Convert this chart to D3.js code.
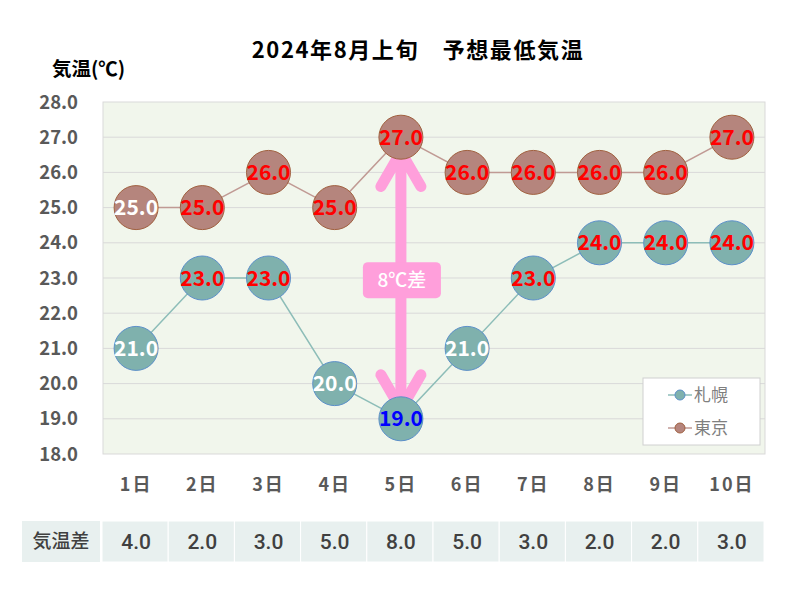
<!DOCTYPE html>
<html><head><meta charset="utf-8">
<script src="https://cdn.jsdelivr.net/npm/d3@7"></script>
<style>body{margin:0;background:#fff}svg{display:block}</style>
</head><body>
<svg id="c" width="800" height="600"></svg>
<script>
const days = ["1日","2日","3日","4日","5日","6日","7日","8日","9日","10日"];
const sapporo = [21,23,23,20,19,21,23,24,24,24];
const tokyo = [25,25,26,25,27,26,26,26,26,27];
const diff = [4,2,3,5,8,5,3,2,2,3];
const sapporoLabelColors = ["#fff","#f00","#f00","#fff","#00f","#fff","#f00","#f00","#f00","#f00"];
const tokyoLabelColors = ["#fff","#f00","#f00","#f00","#f00","#f00","#f00","#f00","#f00","#f00"];
const yTicks = [18,19,20,21,22,23,24,25,26,27,28];

const font = "'Noto Sans CJK JP','Noto Sans',sans-serif";
const svg = d3.select("#c");
const L=103,R=765,T=102,B=454;
const x = d3.scaleBand().domain(days).range([L,R]);
const y = d3.scaleLinear().domain([18,28]).range([B,T]);
const cx = d => x(d)+x.bandwidth()/2;

svg.append("rect").attr("x",L).attr("y",T).attr("width",R-L).attr("height",B-T)
  .attr("fill","#f1f6ec").attr("stroke","#d9d9d9").attr("stroke-width",1);
svg.append("g").selectAll("line").data(yTicks.slice(1,-1)).join("line")
  .attr("x1",L).attr("x2",R).attr("y1",d=>y(d)).attr("y2",d=>y(d))
  .attr("stroke","#d9d9d9").attr("stroke-width",1);

svg.append("g").selectAll("text").data(yTicks).join("text")
  .attr("x",78).attr("y",d=>y(d)).attr("dy","0.36em").attr("text-anchor","end")
  .attr("font-family",font).attr("font-weight","bold").attr("font-size",18.5).attr("fill","#595959")
  .text(d=>d.toFixed(1));

svg.append("g").selectAll("text").data(days).join("text")
  .attr("x",d=>cx(d)).attr("y",491).attr("text-anchor","middle")
  .attr("font-family",font).attr("font-weight","bold").attr("font-size",18).attr("letter-spacing",2).attr("fill","#595959")
  .text(d=>d);

svg.append("text").attr("x",418).attr("y",58).attr("text-anchor","middle")
  .attr("font-family",font).attr("font-weight","bold").attr("font-size",22).attr("letter-spacing",1.6).attr("fill","#000")
  .text("2024年8月上旬　予想最低気温");
svg.append("text").attr("x",52).attr("y",76)
  .attr("font-family",font).attr("font-weight","bold").attr("font-size",19.5).attr("fill","#000")
  .text("気温(℃)");

const line = d3.line().x((d,i)=>cx(days[i])).y(d=>y(d));
svg.append("path").datum(sapporo).attr("d",line).attr("fill","none").attr("stroke","#8dbdb8").attr("stroke-width",1.5);
svg.append("path").datum(tokyo).attr("d",line).attr("fill","none").attr("stroke","#c09a94").attr("stroke-width",1.5);

// arrow
const ax = cx(days[4]);
const topTip = y(26.75), botTip = y(19.1);
const ag = svg.append("g").attr("stroke","#ff9fdb").attr("fill","none").attr("stroke-linecap","round");
ag.append("line").attr("x1",ax).attr("x2",ax).attr("y1",topTip+8).attr("y2",botTip-8).attr("stroke-width",11);
svg.append("path").attr("fill","#ff9fdb")
  .attr("d",`M${ax},${topTip} L${ax-13},${topTip+22} L${ax+13},${topTip+22} Z`);
svg.append("path").attr("fill","#ff9fdb")
  .attr("d",`M${ax},${botTip} L${ax-13},${botTip-22} L${ax+13},${botTip-22} Z`);
ag.append("polyline").attr("points",`${ax-20},${y(25.6)} ${ax},${topTip+6} ${ax+20},${y(25.6)}`).attr("stroke-width",11).attr("stroke-linejoin","round");
ag.append("polyline").attr("points",`${ax-20},${y(20.25)} ${ax},${botTip-6} ${ax+20},${y(20.25)}`).attr("stroke-width",11).attr("stroke-linejoin","round");
svg.append("rect").attr("x",ax-38).attr("y",y(23.45)).attr("width",78).attr("height",36).attr("rx",5)
  .attr("fill","#ff9fdb");
svg.append("text").attr("x",ax+1).attr("y",y(23.45)+18).attr("dy","0.36em").attr("text-anchor","middle")
  .attr("font-family",font).attr("font-weight","500").attr("font-size",19).attr("fill","#fff").text("8℃差");

function markers(data, fill, stroke, colors){
  const g = svg.append("g");
  g.selectAll("circle").data(data).join("circle")
    .attr("cx",(d,i)=>cx(days[i])).attr("cy",d=>y(d)).attr("r",22)
    .attr("fill",fill).attr("stroke",stroke).attr("stroke-width",1);
  g.selectAll("text").data(data).join("text")
    .attr("x",(d,i)=>cx(days[i])).attr("y",d=>y(d)).attr("dy","0.36em").attr("text-anchor","middle")
    .attr("font-family",font).attr("font-weight","bold").attr("font-size",21)
    .attr("fill",(d,i)=>colors[i]).text(d=>d.toFixed(1));
}
markers(sapporo,"#7fb1ad","#5b8fc9",sapporoLabelColors);
markers(tokyo,"#b5857d","#a0603f",tokyoLabelColors);

// legend
const lg = svg.append("g");
lg.append("rect").attr("x",643).attr("y",378).attr("width",117).attr("height",67).attr("fill","#fff").attr("stroke","#d0d0d0");
const legendItems = [["札幌","#8dbdb8","#7fb1ad","#5b8fc9"],["東京","#c09a94","#b5857d","#a0603f"]];
legendItems.forEach((it,i)=>{
  const yy = 395 + i*33;
  lg.append("line").attr("x1",668).attr("x2",692).attr("y1",yy).attr("y2",yy).attr("stroke",it[1]).attr("stroke-width",1.5);
  lg.append("circle").attr("cx",680).attr("cy",yy).attr("r",5).attr("fill",it[2]).attr("stroke",it[3]);
  lg.append("text").attr("x",694).attr("y",yy).attr("dy","0.36em").attr("font-family",font)
    .attr("font-size",17).attr("fill","#7f7f7f").text(it[0]);
});

// table
const tg = svg.append("g");
const rowT=521, rowH=41;
tg.append("rect").attr("x",22).attr("y",rowT).attr("width",78).attr("height",rowH).attr("fill","#e8f0ef");
tg.append("text").attr("x",61).attr("y",rowT+rowH/2).attr("dy","0.36em").attr("text-anchor","middle")
  .attr("font-family",font).attr("font-size",19).attr("font-weight","500").attr("fill","#404040").text("気温差");
tg.selectAll("rect.c").data(diff).join("rect").attr("class","c")
  .attr("x",(d,i)=>x(days[i])-1).attr("y",rowT).attr("width",x.bandwidth()).attr("height",rowH)
  .attr("fill","#e8f0ef").attr("stroke","#fff").attr("stroke-width",1);
tg.selectAll("text.v").data(diff).join("text").attr("class","v")
  .attr("x",(d,i)=>cx(days[i])).attr("y",rowT+rowH/2).attr("dy","0.36em").attr("text-anchor","middle")
  .attr("font-family","Roboto,'Noto Sans',sans-serif").attr("font-size",21).attr("font-weight","500").attr("fill","#404040")
  .text(d=>d.toFixed(1));
</script>
</body></html>
